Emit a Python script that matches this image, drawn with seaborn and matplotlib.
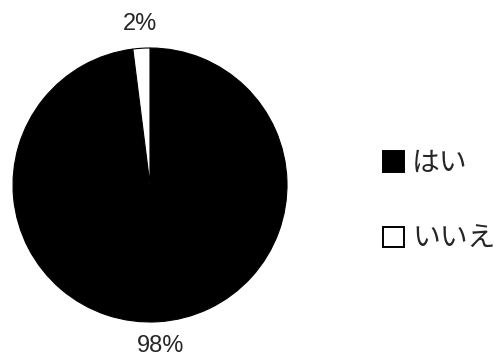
"""
Pie chart: share of はい / いいえ answers.
"""

import matplotlib
matplotlib.use("Agg")
import matplotlib.pyplot as plt
import matplotlib.patches as mpatches
import seaborn as sns

# Data
labels = ["はい", "いいえ"]
shares = [98, 2]
colors = ["black", "white"]

sns.set_theme(style="white")
plt.rcParams["font.family"] = ["Noto Sans CJK JP", "DejaVu Sans"]

fig = plt.figure(figsize=(5.04, 3.64), dpi=100)
ax = fig.add_axes([13 / 504, 42 / 364, 274 / 504, 274 / 364])

wedges, texts = ax.pie(
    shares,
    colors=colors,
    startangle=90,
    counterclock=False,
    labels=[f"{s}%" for s in shares],
    labeldistance=1.18,
    wedgeprops={"edgecolor": "black", "linewidth": 0.8},
    textprops={"fontsize": 17, "family": ["Liberation Sans", "DejaVu Sans"]},
)
for t in texts:
    t.set_horizontalalignment("center")
    t.set_verticalalignment("center")
ax.set_xlim(-1, 1)
ax.set_ylim(-1, 1)
ax.set_aspect("equal")

# Legend
handles = [
    mpatches.Patch(facecolor=c, edgecolor="black", linewidth=1.4, label=l)
    for c, l in zip(colors, labels)
]
fig.legend(
    handles=handles,
    loc="center left",
    bbox_to_anchor=(383 / 504, 1 - 201 / 364),
    frameon=False,
    fontsize=20,
    handlelength=0.75,
    handleheight=0.75,
    handletextpad=0.3,
    labelspacing=1.65,
    borderpad=0,
    borderaxespad=0,
)

plt.savefig("out.png", dpi=100)
